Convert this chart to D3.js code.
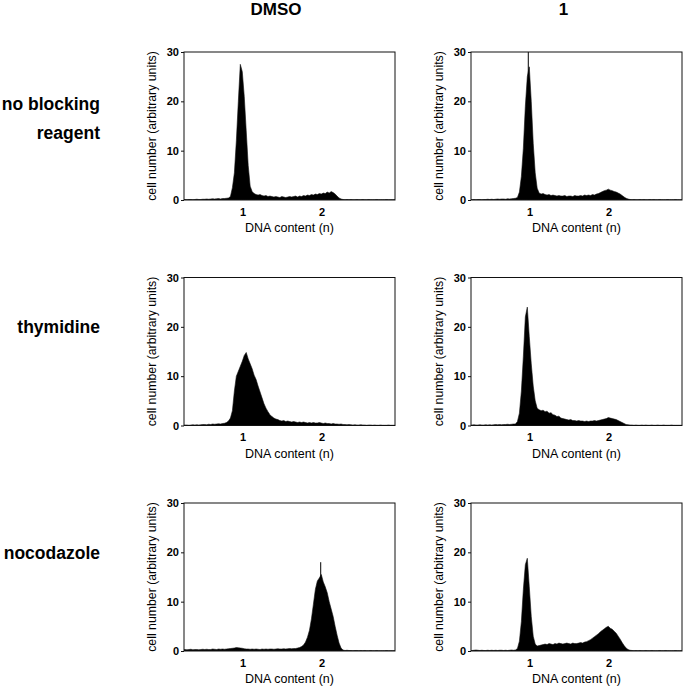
<!DOCTYPE html>
<html><head><meta charset="utf-8">
<script src="https://cdn.jsdelivr.net/npm/d3@7"></script>
<style>body{margin:0;background:#fff}</style>
</head><body>
<svg id="chart" width="685" height="691"></svg>
<script>
// ---------------- data ----------------
const columnTitles = ["DMSO", "1"];
const rowLabels = [["no blocking", "reagent"], ["thymidine"], ["nocodazole"]];
const xTicks = [1, 2];
const yTicks = [0, 10, 20, 30];
const xDomain = [0.26, 2.93];
const yDomain = [0, 30];
const xTitle = "DNA content (n)";
const yTitle = "cell number (arbitrary units)";
// histogram bins: first bin starts at binStart, each bin is binWidth wide (DNA content, n)
const binStart = 0.26;
const binWidth = 0.025;

// DMSO, no blocking reagent
const dmsoNone = [
  0.1,0.05,0.1,0.1,0.05,0.1,0.15,0.1,0.1,0.15,
  0.15,0.2,0.15,0.2,0.25,0.2,0.25,0.3,0.2,0.3,
  0.3,0.35,0.4,
  0.7,2.5,5.5,12,20,27.5,26,21,14,7,2.8,1.7,
  1.3,1.1,1.0,1.1,0.9,0.8,0.9,0.7,0.8,0.7,0.6,
  0.7,0.6,0.5,0.7,0.6,0.5,0.6,0.7,0.6,0.7,0.8,0.6,0.8,
  0.7,0.9,0.8,1.0,0.9,1.1,1.0,1.2,
  1.1,1.3,1.2,1.4,1.3,1.6,1.4,1.7,1.5,1.2,
  0.8,0.4,0.2,0.1,
  0.05,0.1,0.05,0.1,0.05,0.05,0.1,0.05,0.05,0.1,
  0.05,0.05,0.1,0.05,0.05,0.05,0.1,0.05,0.05,0.05,
  0.05,0.1,0.05,0.05,0.05,0.05
];
// compound 1, no blocking reagent
const oneNone = [
  0.05,0.1,0.05,0.1,0.1,0.05,0.1,0.1,0.15,0.1,
  0.15,0.1,0.15,0.2,0.15,0.2,0.2,0.15,0.25,0.2,
  0.25,0.3,0.35,
  0.5,1.6,4.8,10.5,19,25,27,20,11.5,5.5,2.4,1.4,
  1.2,1.3,1.1,1.0,1.1,0.9,1.0,0.9,0.8,0.9,0.8,
  0.8,0.9,0.7,0.8,0.8,0.7,0.9,0.8,0.8,0.9,0.8,1.0,0.9,
  1.0,0.9,1.1,1.0,1.2,1.3,1.5,1.7,
  1.9,2.0,2.2,2.0,1.9,1.7,1.6,1.4,1.2,0.9,
  0.6,0.35,0.2,0.1,
  0.05,0.1,0.05,0.05,0.1,0.05,0.1,0.05,0.05,0.1,
  0.05,0.1,0.05,0.05,0.1,0.05,0.05,0.05,0.1,0.05,
  0.05,0.05,0.1,0.05,0.05,0.05
];
// DMSO, thymidine
const dmsoThy = [
  0.1,0.1,0.05,0.1,0.15,0.1,0.15,0.1,0.15,0.2,
  0.2,0.15,0.25,0.2,0.3,0.25,0.3,0.35,0.3,0.4,
  0.45,0.6,
  0.9,1.5,3,7,10,11,12,13,14.2,14.8,13.5,12.5,11.5,10.2,9.3,8,6.8,5.6,4.4,3.5,2.8,2.2,1.8,1.5,1.3,1.2,1.0,
  0.9,1.0,0.8,0.9,0.8,0.7,0.8,0.7,0.6,0.7,0.6,0.7,0.6,0.5,0.6,0.5,0.6,0.5,
  0.5,0.6,0.5,0.4,0.5,0.4,0.4,0.3,0.4,0.3,0.3,0.25,0.3,0.2,
  0.2,0.15,0.2,0.15,0.1,0.15,0.1,0.1,0.15,0.1,
  0.1,0.05,0.1,0.1,0.05,0.1,0.05,0.05,0.1,0.05,
  0.05,0.05,0.1,0.05,0.05,0.05
];
// compound 1, thymidine
const oneThy = [
  0.1,0.15,0.1,0.1,0.15,0.1,0.1,0.15,0.1,0.15,
  0.1,0.15,0.2,0.15,0.2,0.15,0.2,0.2,0.25,0.2,
  0.25,0.3,
  0.3,0.8,2.5,7,14,22,24,18,12.5,8,5,3.5,3.2,
  3.0,3.1,2.8,2.9,2.5,2.6,2.2,2.1,1.8,1.9,1.5,1.4,
  1.3,1.2,1.1,1.2,1.0,1.0,0.9,1.0,0.9,
  0.9,0.8,0.9,0.8,0.9,0.9,1.0,0.9,1.0,
  1.1,1.2,1.3,1.4,1.6,1.5,1.4,
  1.3,1.2,1.0,0.8,0.6,0.4,
  0.2,0.15,0.1,
  0.1,0.05,0.1,0.05,0.05,0.1,0.05,0.1,0.05,0.05,
  0.1,0.05,0.05,0.1,0.05,0.05,0.1,0.05,0.05,0.05,
  0.1,0.05,0.05,0.05,0.05,0.05
];
// DMSO, nocodazole
const dmsoNoc = [
  0.3,0.25,0.3,0.35,0.25,0.3,0.3,0.25,0.3,0.35,
  0.3,0.35,0.3,0.3,0.4,0.35,0.3,0.4,0.35,0.4,0.35,
  0.4,0.45,0.5,0.55,0.6,0.7,0.65,0.6,0.55,0.45,0.4,
  0.4,0.35,0.4,0.35,0.4,0.35,0.3,0.4,0.35,0.4,0.35,0.4,0.4,0.35,0.4,0.45,0.4,0.4,0.45,0.4,0.45,0.5,0.45,
  0.5,0.5,0.6,0.7,0.9,1.2,1.8,2.8,4.2,6.5,9.5,12.5,14.2,14.8,15.5,14,13,11.8,10,8.5,7,5,3.2,1.6,0.6,0.2,
  0.1,0.15,0.1,0.1,0.05,0.1,0.1,0.05,0.1,0.05,
  0.1,0.05,0.05,0.1,0.05,0.05,0.1,0.05,0.05,0.05,
  0.05,0.1,0.05,0.05,0.05,0.05
];
// compound 1, nocodazole
const oneNoc = [
  0.1,0.15,0.2,0.15,0.1,0.15,0.1,0.1,0.15,0.1,
  0.15,0.1,0.15,0.1,0.15,0.15,0.1,0.15,0.1,0.15,0.2,0.15,
  0.2,0.5,2,6,12.5,17.5,18.8,13,7,3,1.4,
  1.0,1.1,1.2,1.3,1.4,1.3,1.5,1.4,
  1.3,1.5,1.4,1.6,1.5,1.4,1.5,1.6,1.5,1.4,1.6,1.5,1.5,1.6,1.7,
  1.6,1.8,1.9,2.1,2.3,2.6,2.9,
  3.2,3.5,3.9,4.2,4.5,4.8,5.0,4.6,
  4.4,4.0,3.6,3.0,2.4,1.7,1.1,0.6,0.3,0.15,
  0.1,0.05,0.1,0.05,0.1,0.05,0.05,0.1,0.05,0.05,
  0.1,0.05,0.05,0.05,0.1,0.05,0.05,0.1,0.05,0.05,
  0.05,0.05,0.1,0.05,0.05,0.05
];
// single-channel spikes drawn as thin lines
const spikePanels = [1, 4];
const spikeX = [0.985, 1.99];
const spikeValues = [30, 18];

const panelData = [dmsoNone, oneNone, dmsoThy, oneThy, dmsoNoc, oneNoc];

// ---------------- layout ----------------
const FONT = "'Liberation Sans', Arial, Helvetica, sans-serif";
const colLeft = [184, 471];
const rowTop = [52, 277.5, 503];
const W = 211, H = 148;
const titleX = [276, 563.5];
const rowLabelBaselines = [[110, 139], [333], [558.5]];

const svg = d3.select("#chart");

const x = d3.scaleLinear().domain(xDomain).range([0, W]);
const y = d3.scaleLinear().domain(yDomain).range([H, 0]);

svg.selectAll("text.coltitle").data(columnTitles).join("text")
  .attr("class", "coltitle")
  .attr("x", (d, i) => titleX[i]).attr("y", 15)
  .attr("text-anchor", "middle")
  .style("font-family", FONT).style("font-weight", "bold").style("font-size", "17px")
  .text(d => d);

rowLabels.forEach((lines, r) => {
  lines.forEach((line, k) => {
    svg.append("text")
      .attr("x", 100).attr("y", rowLabelBaselines[r][k])
      .attr("text-anchor", "end")
      .style("font-family", FONT).style("font-weight", "bold").style("font-size", "17.5px")
      .text(line);
  });
});

const area = d3.area()
  .x(d => x(d.x))
  .y0(y(0))
  .y1(d => y(d.v))
  .curve(d3.curveLinear);

panelData.forEach((vals, p) => {
  const r = Math.floor(p / 2), c = p % 2;
  const g = svg.append("g").attr("transform", `translate(${colLeft[c]},${rowTop[r]})`);

  const clipId = "clip" + p;
  g.append("clipPath").attr("id", clipId)
    .append("rect").attr("x", 0).attr("y", 0).attr("width", W).attr("height", H);

  // bin centres
  const pts = vals.map((v, i) => ({ x: binStart + (i + 0.5) * binWidth, v }));
  pts.unshift({ x: xDomain[0], v: vals[0] });
  pts.push({ x: xDomain[1], v: vals[vals.length - 1] });

  const plot = g.append("g").attr("clip-path", `url(#${clipId})`);
  plot.append("path").datum(pts)
    .attr("d", area)
    .attr("fill", "#000")
    .attr("stroke", "#111")
    .attr("stroke-width", 0.6)
    .attr("stroke-linejoin", "miter");

  spikePanels.forEach((sp, k) => {
    if (sp !== p) return;
    plot.append("line")
      .attr("x1", x(spikeX[k])).attr("x2", x(spikeX[k]))
      .attr("y1", y(0)).attr("y2", y(spikeValues[k]))
      .attr("stroke", "#000").attr("stroke-width", 1);
  });

  g.append("rect").attr("x", 0).attr("y", 0).attr("width", W).attr("height", H)
    .attr("fill", "none").attr("stroke", "#111").attr("stroke-width", 1);

  const ya = g.append("g").call(d3.axisLeft(y).tickValues(yTicks).tickSize(3).tickSizeOuter(0).tickPadding(2));
  ya.select(".domain").remove();
  ya.selectAll("line").attr("stroke", "#111");
  ya.selectAll("text").style("font-family", FONT).style("font-weight", "bold").style("font-size", "11px").attr("fill", "#000");

  const xa = g.append("g").attr("transform", `translate(0,${H})`)
    .call(d3.axisBottom(x).tickValues(xTicks).tickSize(0).tickPadding(8).tickFormat(d3.format("d")));
  xa.select(".domain").remove();
  xa.selectAll("text").style("font-family", FONT).style("font-weight", "bold").style("font-size", "11px").attr("fill", "#000");

  g.append("text")
    .attr("x", W / 2).attr("y", H + 32)
    .attr("text-anchor", "middle")
    .style("font-family", FONT).style("font-size", "12.5px")
    .text(xTitle);
  g.append("text")
    .attr("transform", `translate(-28,${H / 2}) rotate(-90)`)
    .attr("text-anchor", "middle")
    .style("font-family", FONT).style("font-size", "12.3px")
    .text(yTitle);
});
</script>
</body></html>
